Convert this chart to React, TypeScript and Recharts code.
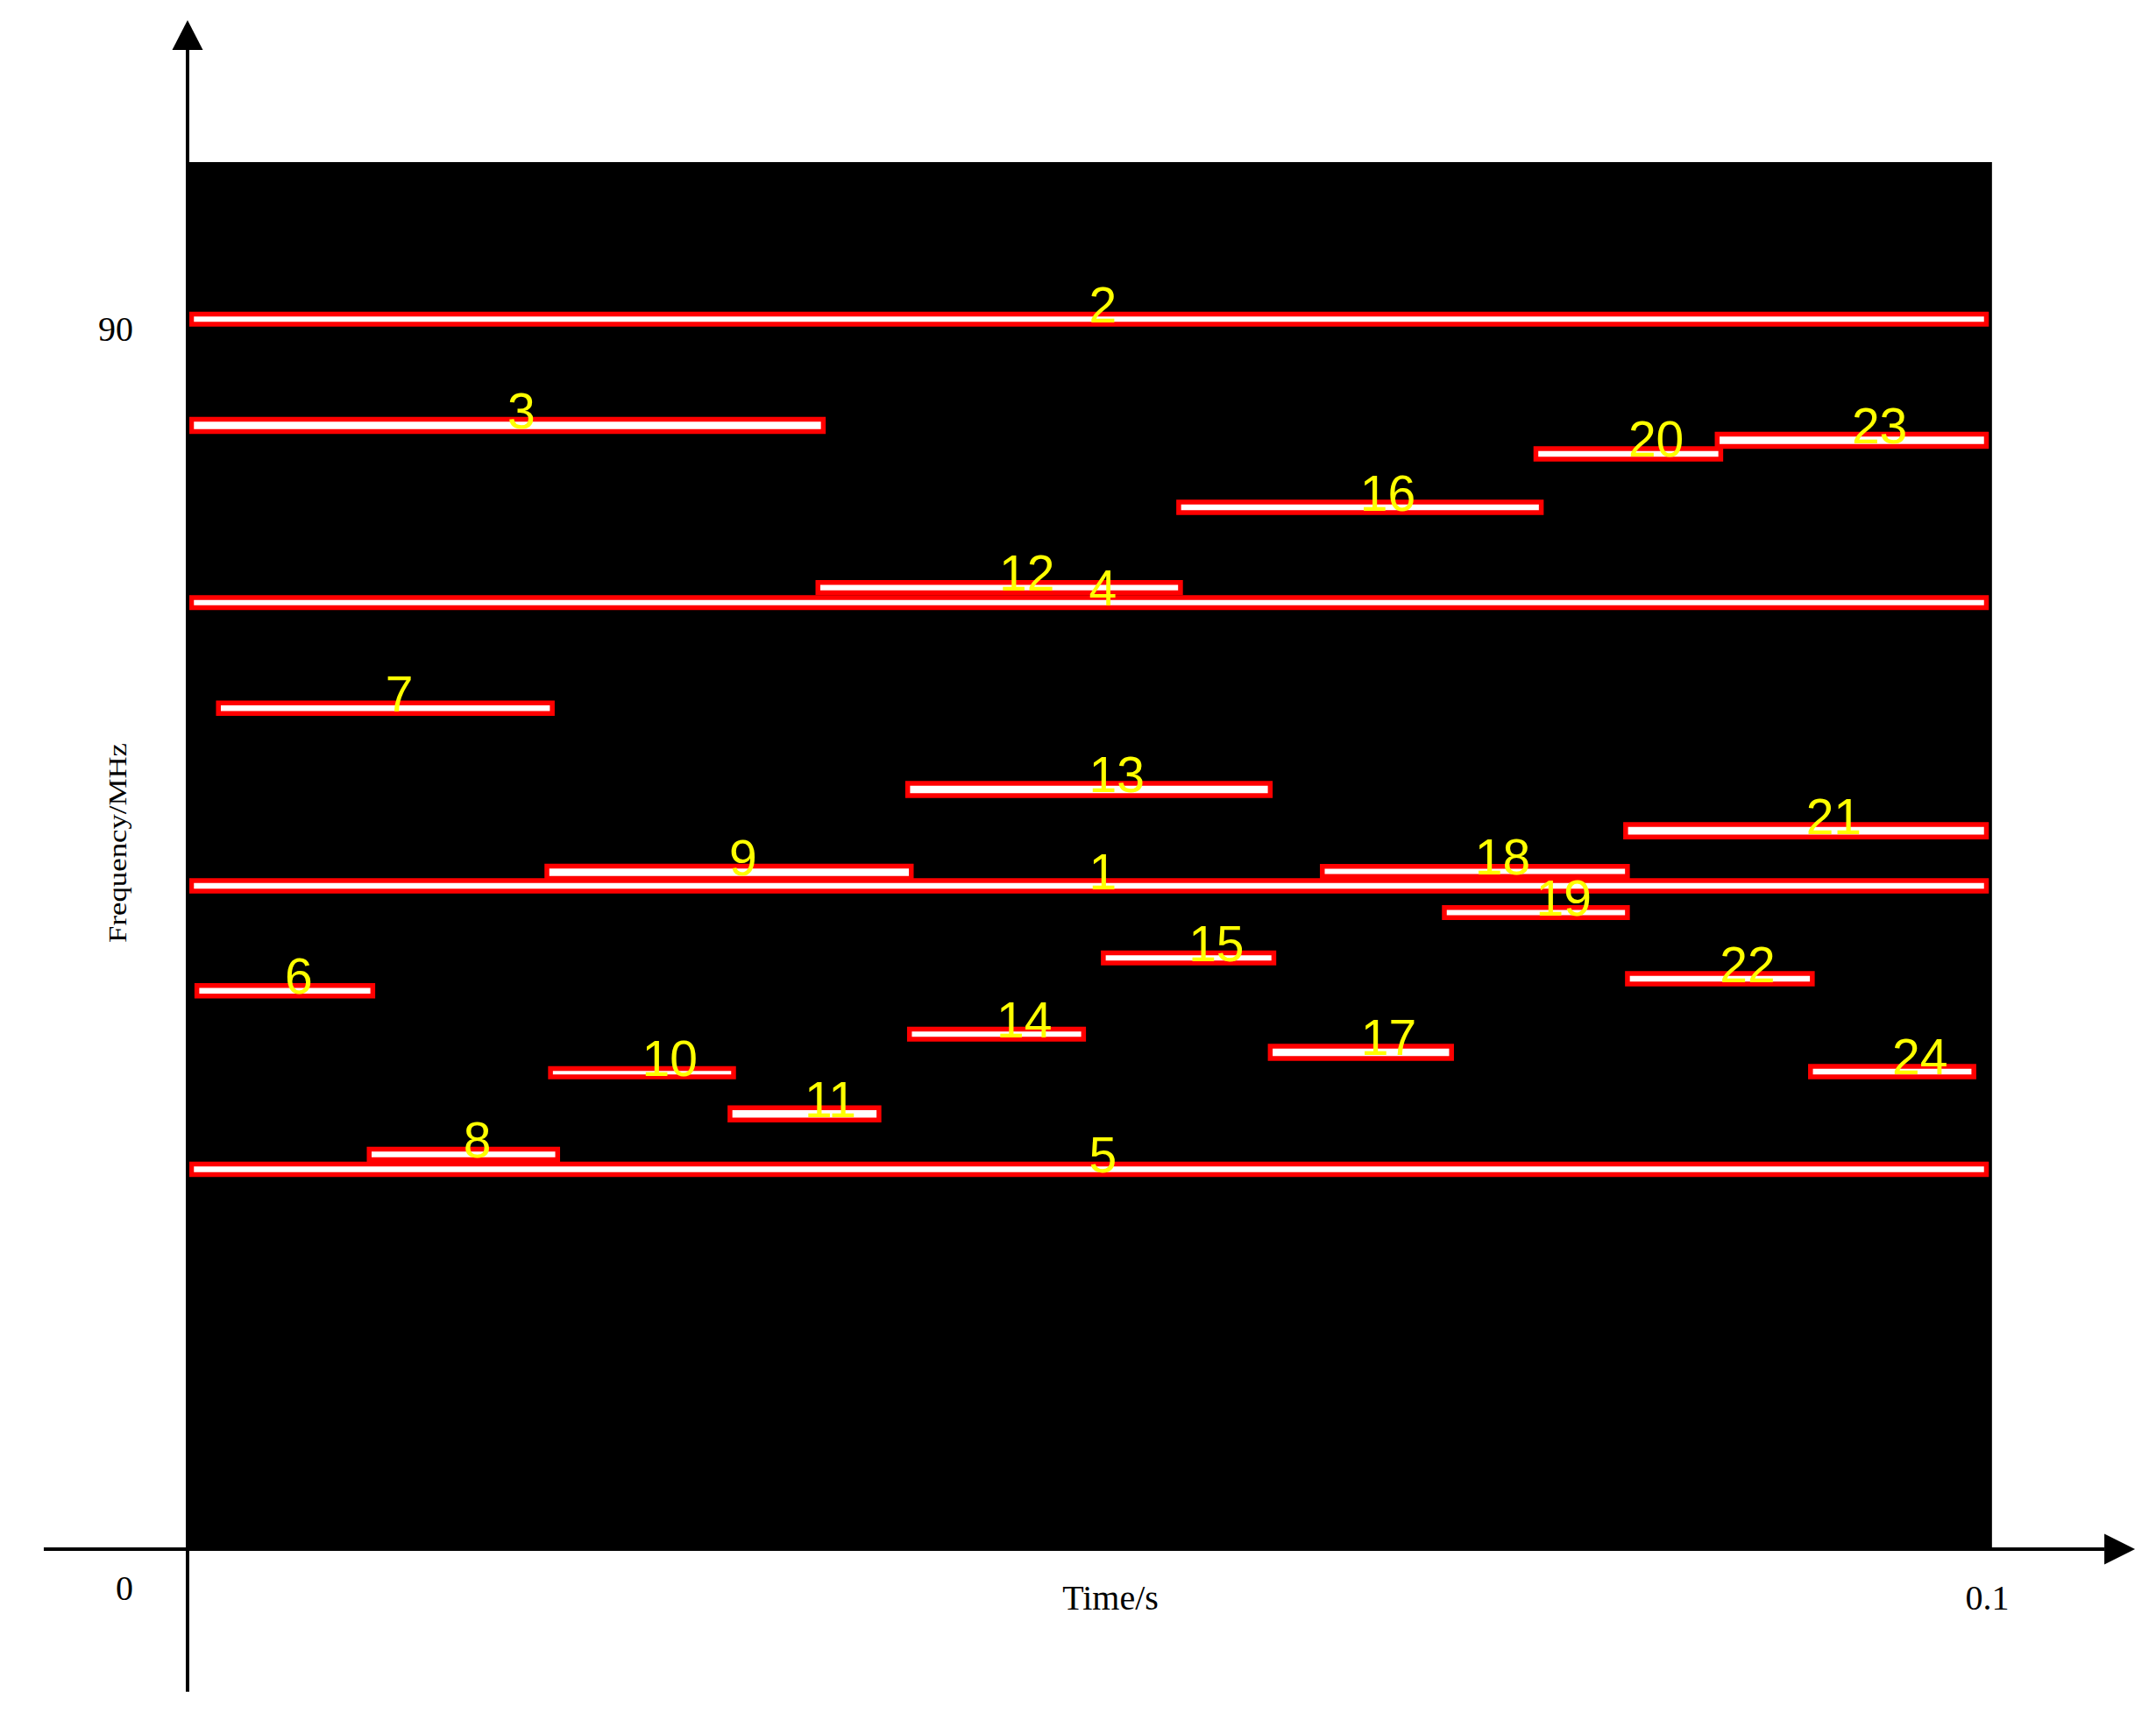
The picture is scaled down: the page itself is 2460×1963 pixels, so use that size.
import React from 'react';
import {
  ComposedChart,
  XAxis,
  YAxis,
  ReferenceArea,
  ReferenceLine,
  ReferenceDot,
  Scatter,
} from 'recharts';

// ---------------- data ----------------
const SIGNAL_IDS = [
  '1', '2', '3', '4', '5', '6', '7', '8', '9', '10', '11', '12',
  '13', '14', '15', '16', '17', '18', '19', '20', '21', '22', '23', '24',
];
const START_S = [
  0, 0, 0, 0, 0, 0.0003, 0.0015, 0.0099, 0.0198, 0.02, 0.03, 0.0349,
  0.0399, 0.04, 0.0508, 0.055, 0.0601, 0.063, 0.0698, 0.0749, 0.0799, 0.08, 0.085, 0.0902,
];
const END_S = [
  0.1, 0.1, 0.0352, 0.1, 0.1, 0.0101, 0.0201, 0.0204, 0.0401, 0.0302, 0.0383, 0.0551,
  0.0601, 0.0497, 0.0603, 0.0752, 0.0702, 0.08, 0.08, 0.0852, 0.1, 0.0903, 0.1, 0.0993,
];
const CENTER_MHZ = [
  50.0, 90.0, 82.5, 70.0, 30.0, 42.6, 62.55, 31.05, 50.97, 36.82, 33.91, 71.06,
  56.81, 39.54, 44.92, 76.72, 38.26, 51.03, 48.12, 80.5, 53.9, 43.45, 81.45, 36.9,
];
const BANDWIDTH_MHZ = [
  0.74, 0.72, 0.87, 0.71, 0.73, 0.74, 0.74, 0.73, 0.87, 0.59, 0.87, 0.72,
  0.87, 0.71, 0.71, 0.74, 0.87, 0.71, 0.71, 0.74, 0.88, 0.74, 0.87, 0.74,
];

const Y_TICKS = [90];
const X_TICKS = [0.1];
const ORIGIN_TICK = '0';
const X_TITLE = 'Time/s';
const Y_TITLE = 'Frequency/MHz';

// ---------------- layout (data units of the frame) ----------------
const W = 2452;
const H = 1940;
const PX_PER_S = 20480;
const PX_PER_MHZ = 16.17;
const T0_PX = 210.5; // svg x of t = 0
const F90_PX = 356.3; // svg y of 90 MHz
const tAt = (px: number) => (px - T0_PX) / PX_PER_S;
const fAt = (py: number) => 90 - (py - F90_PX) / PX_PER_MHZ;
const X_DOMAIN: [number, number] = [tAt(0), tAt(W)];
const Y_DOMAIN: [number, number] = [fAt(H), fAt(0)];

const FRAME_T: [number, number] = [-0.00031, 0.10031];
const FRAME_F: [number, number] = [3.07, 101.09];
const AXIS_T = -0.00022;
const AXIS_F = 3.19;
const Y_AXIS_F: [number, number] = [-6.87, 109.0];
const X_AXIS_T: [number, number] = [-0.00823, 0.10657];

const SERIF = "'Liberation Serif', 'Times New Roman', serif";
const SANS = "'Liberation Sans', Arial, sans-serif";

const labelPoints = SIGNAL_IDS.map((id, i) => ({
  x: (START_S[i] + END_S[i]) / 2,
  y: CENTER_MHZ[i],
  id,
}));

const LabelShape = (p: any) => (
  <text
    x={p.cx}
    y={p.cy + 3.5}
    fill="#FFFF00"
    fontSize={57}
    fontFamily={SANS}
  >
    {p.payload.id}
  </text>
);

const textShape = (
  txt: string,
  dx: number,
  dy: number,
  extra: any = {}
) => (p: any) => (
  <text
    x={p.cx + dx}
    y={p.cy + dy}
    textAnchor="middle"
    fontSize={40}
    fontFamily={SERIF}
    fill="#000"
    {...extra}
  >
    {txt}
  </text>
);

const yTitleShape = (p: any) => {
  const x = p.cx - 70;
  const y = p.cy;
  return (
    <text
      x={x}
      y={y}
      transform={`rotate(-90, ${x}, ${y})`}
      textAnchor="middle"
      fontSize={30}
      fontFamily={SERIF}
      fill="#000"
      textLength={228}
      lengthAdjust="spacingAndGlyphs"
    >
      {Y_TITLE}
    </text>
  );
};

const upArrow = (p: any) => (
  <polygon
    points={`${p.cx - 17.5},${p.cy} ${p.cx + 17.5},${p.cy} ${p.cx},${p.cy - 34}`}
    fill="#000"
  />
);
const rightArrow = (p: any) => (
  <polygon
    points={`${p.cx},${p.cy - 17.5} ${p.cx},${p.cy + 17.5} ${p.cx + 35},${p.cy}`}
    fill="#000"
  />
);

export default function App() {
  return (
    <ComposedChart
      width={W}
      height={H}
      margin={{ top: 0, right: 0, bottom: 0, left: 0 }}
      style={{ background: '#fff' }}
    >
      <XAxis
        type="number"
        dataKey="x"
        domain={X_DOMAIN}
        allowDataOverflow
        hide
      />
      <YAxis
        type="number"
        dataKey="y"
        domain={Y_DOMAIN}
        allowDataOverflow
        hide
      />

      {/* black frame */}
      <ReferenceArea
        x1={FRAME_T[0]}
        x2={FRAME_T[1]}
        y1={FRAME_F[0]}
        y2={FRAME_F[1]}
        fill="#000"
        fillOpacity={1}
        stroke="none"
      />

      {/* signals */}
      {SIGNAL_IDS.map((id, i) => (
        <ReferenceArea
          key={`sig-${id}`}
          x1={START_S[i]}
          x2={END_S[i]}
          y1={CENTER_MHZ[i] - BANDWIDTH_MHZ[i] / 2}
          y2={CENTER_MHZ[i] + BANDWIDTH_MHZ[i] / 2}
          fill="#FFFFFF"
          fillOpacity={1}
          stroke="#FF0000"
          strokeWidth={5.5}
        />
      ))}

      {/* axes with arrows */}
      <ReferenceLine
        segment={[
          { x: AXIS_T, y: Y_AXIS_F[0] },
          { x: AXIS_T, y: Y_AXIS_F[1] },
        ]}
        stroke="#000"
        strokeWidth={4}
      />
      <ReferenceLine
        segment={[
          { x: X_AXIS_T[0], y: AXIS_F },
          { x: X_AXIS_T[1], y: AXIS_F },
        ]}
        stroke="#000"
        strokeWidth={4}
      />
      <ReferenceDot x={AXIS_T} y={Y_AXIS_F[1]} r={1} shape={upArrow} />
      <ReferenceDot x={X_AXIS_T[1]} y={AXIS_F} r={1} shape={rightArrow} />

      {/* tick labels and titles */}
      {Y_TICKS.map((v) => (
        <ReferenceDot
          key={`yt-${v}`}
          x={AXIS_T}
          y={v}
          r={1}
          shape={textShape(String(v), -82, 24.7)}
        />
      ))}
      {X_TICKS.map((v) => (
        <ReferenceDot
          key={`xt-${v}`}
          x={v}
          y={AXIS_F}
          r={1}
          shape={textShape(String(v), 1, 69)}
        />
      ))}
      <ReferenceDot
        x={AXIS_T}
        y={AXIS_F}
        r={1}
        shape={textShape(ORIGIN_TICK, -72, 58)}
      />
      <ReferenceDot
        x={0.05}
        y={AXIS_F}
        r={1}
        shape={textShape(X_TITLE, 24.5, 69)}
      />
      <ReferenceDot x={AXIS_T} y={53.04} r={1} shape={yTitleShape} />

      {/* signal numbers */}
      <Scatter
        data={labelPoints}
        dataKey="y"
        shape={LabelShape}
        isAnimationActive={false}
      />
    </ComposedChart>
  );
}
